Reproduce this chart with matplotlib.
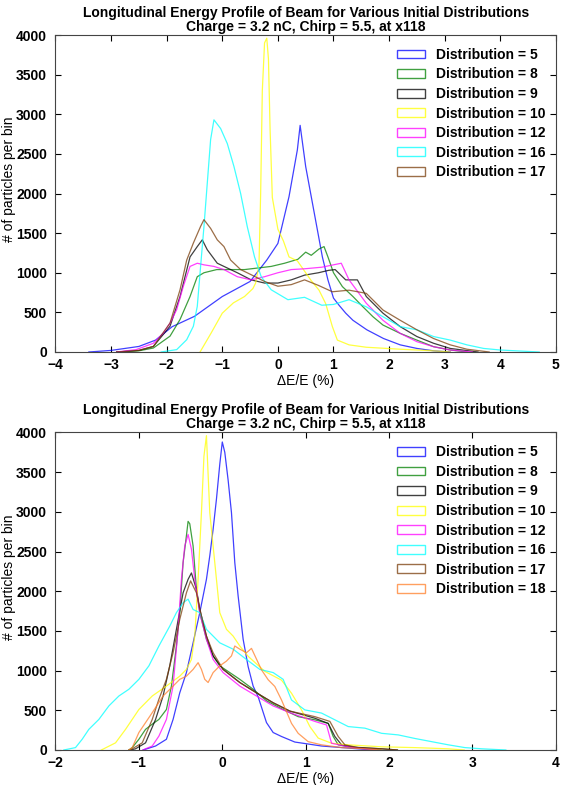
import matplotlib
matplotlib.use('Agg')
import matplotlib.pyplot as plt
from matplotlib.patches import Patch

plt.rcParams['font.family'] = ['Liberation Sans', 'DejaVu Sans']
plt.rcParams['font.size'] = 10

# ---- top panel: x118, distributions 5..17 ----
top_labels = [5, 8, 9, 10, 12, 16, 17]

top_x5 = [-3.4, -3.0, -2.5, -2.2, -1.9, -1.5, -1.0, -0.5, -0.2, 0.0, 0.2, 0.35, 0.4, 0.5, 0.6, 0.7, 0.8, 0.9,
          1.0, 1.1, 1.22, 1.35, 1.6, 1.9, 2.2, 2.5, 2.8, 3.1]
top_y5 = [0, 20, 70, 150, 320, 450, 700, 890, 1160, 1370, 1960, 2550, 2860, 2340, 1960, 1580, 1200, 910,
          680, 590, 490, 400, 280, 170, 90, 45, 15, 0]

top_x8 = [-2.9, -2.5, -2.24, -1.94, -1.76, -1.58, -1.45, -1.33, -1.1, -0.85, -0.6, -0.36, -0.12, 0.12, 0.36,
          0.5, 0.6, 0.74, 0.83, 0.9, 1.0, 1.16, 1.35, 1.53, 1.71, 1.89, 2.2, 2.5, 2.8, 3.1, 3.4]
top_y8 = [0, 15, 50, 200, 410, 700, 950, 1000, 1040, 1040, 1040, 1060, 1080, 1120, 1170,
          1260, 1220, 1300, 1330, 1200, 1000, 825, 700, 570, 445, 340, 235, 150, 67, 25, 0]

top_x9 = [-2.9, -2.5, -2.24, -1.94, -1.76, -1.58, -1.45, -1.36, -1.27, -1.09, -0.91, -0.73, -0.48, -0.24, 0.0,
          0.24, 0.48, 0.73, 0.91, 1.03, 1.22, 1.43, 1.59, 1.89, 2.2, 2.5, 2.8, 3.1, 3.6]
top_y9 = [0, 20, 70, 325, 700, 1200, 1330, 1415, 1290, 1120, 1060, 1000, 910, 870, 870,
          910, 970, 1000, 1030, 1040, 910, 910, 700, 490, 320, 195, 110, 45, 0]

top_x10 = [-1.4, -1.2, -1.0, -0.8, -0.6, -0.45, -0.4, -0.34, -0.31, -0.28, -0.24, -0.2, -0.17, -0.14, -0.1,
           -0.05, 0.0, 0.1, 0.2, 0.35, 0.48, 0.6, 0.74, 0.86, 0.98, 1.07, 1.28, 1.59, 2.2, 2.8, 3.1]
top_y10 = [0, 240, 490, 620, 700, 800, 870, 1100, 2000, 3300, 3900, 3960, 3700, 2800, 1950,
           1750, 1550, 1400, 1200, 1150, 1020, 900, 780, 610, 320, 150, 90, 60, 35, 15, 0]

top_x12 = [-2.9, -2.55, -2.24, -2.06, -1.94, -1.82, -1.7, -1.58, -1.45, -1.33, -1.15, -0.97, -0.73, -0.48,
           -0.24, 0.0, 0.24, 0.48, 0.79, 1.0, 1.14, 1.28, 1.59, 1.89, 2.2, 2.5, 2.8, 3.1, 3.5]
top_y12 = [0, 30, 110, 240, 365, 535, 830, 1080, 1120, 1100, 1080, 1040, 950, 910,
           950, 1000, 1040, 1050, 1070, 1100, 1120, 910, 615, 400, 235, 130, 67, 25, 0]

top_x16 = [-2.1, -1.82, -1.64, -1.52, -1.45, -1.39, -1.33, -1.27, -1.21, -1.15, -1.03, -0.91, -0.79, -0.67,
           -0.55, -0.42, -0.3, -0.12, 0.18, 0.48, 0.79, 1.0, 1.28, 1.59, 1.89, 2.2, 2.5, 2.8, 3.1, 3.4, 3.7,
           4.0, 4.7]
top_y16 = [0, 30, 155, 325, 575, 1080, 1580, 2130, 2680, 2930, 2820, 2630, 2340, 2000,
           1580, 1200, 950, 785, 660, 690, 590, 600, 660, 570, 445, 320, 280, 195, 150, 90, 45,
           25, 0]

top_x17 = [-2.9, -2.5, -2.24, -1.94, -1.76, -1.64, -1.52, -1.39, -1.33, -1.21, -1.09, -0.97, -0.85, -0.67,
           -0.48, -0.24, 0.0, 0.24, 0.48, 0.73, 0.98, 1.28, 1.59, 1.89, 2.2, 2.5, 2.8, 3.1, 3.4, 3.8]
top_y17 = [0, 20, 70, 365, 785, 1160, 1375, 1585, 1670, 1560, 1415, 1330, 1160, 1040,
           975, 890, 830, 850, 910, 840, 760, 780, 740, 530, 400, 280, 170, 90, 35, 0]

# ---- bottom panel: distributions 5..18 ----
bot_labels = [5, 8, 9, 10, 12, 16, 17, 18]

bot_x5 = [-0.95, -0.8, -0.67, -0.59, -0.51, -0.43, -0.35, -0.27, -0.19, -0.15, -0.11, -0.07, -0.03, 0.0, 0.03,
          0.07, 0.11, 0.15, 0.19, 0.25, 0.31, 0.37, 0.43, 0.53, 0.61, 0.71, 0.87, 1.0, 1.19, 1.5, 1.8]
bot_y5 = [0, 50, 135, 385, 720, 975, 1350, 1730, 2150, 2445, 2780, 3160, 3600, 3880, 3750,
          3400, 2990, 2360, 1940, 1395, 1050, 805, 670, 345, 220, 170, 100, 80, 50, 25, 0]

bot_x8 = [-1.12, -1.08, -1.0, -0.92, -0.84, -0.76, -0.67, -0.61, -0.55, -0.51, -0.47, -0.43, -0.41, -0.39,
          -0.35, -0.31, -0.27, -0.19, -0.11, -0.03, 0.09, 0.21, 0.37, 0.53, 0.71, 0.91, 1.11, 1.27, 1.33,
          1.39, 1.51, 1.71, 1.9]
bot_y8 = [0, 30, 135, 260, 325, 385, 510, 805, 1310, 1730, 2360, 2700, 2880, 2850,
          2570, 2025, 1730, 1395, 1185, 1060, 975, 890, 765, 620, 520, 420, 380, 335, 170,
          65, 40, 20, 0]

bot_x9 = [-1.1, -1.04, -0.92, -0.8, -0.71, -0.63, -0.55, -0.47, -0.41, -0.37, -0.31, -0.27, -0.19, -0.11,
          0.01, 0.21, 0.41, 0.61, 0.81, 1.11, 1.27, 1.35, 1.43, 1.59, 1.91, 2.1]
bot_y9 = [0, 15, 90, 385, 680, 1060, 1520, 1980, 2150, 2230, 2025, 1770, 1435, 1185,
          1015, 850, 720, 595, 490, 400, 335, 170, 65, 35, 15, 0]

bot_x10 = [-1.45, -1.28, -1.16, -1.0, -0.84, -0.67, -0.51, -0.43, -0.37, -0.33, -0.29, -0.25, -0.22, -0.19,
           -0.15, -0.09, -0.03, 0.05, 0.13, 0.21, 0.31, 0.51, 0.71, 0.83, 0.95, 1.05, 1.15, 1.31, 1.51,
           1.91, 2.31, 2.71, 2.9]
bot_y10 = [0, 90, 260, 510, 680, 805, 930, 1015, 1140, 1435, 2150, 2990, 3700, 3960,
           2990, 2360, 1730, 1520, 1435, 1310, 1180, 990, 880, 715, 505, 295, 150, 85, 65,
           40, 30, 15, 0]

bot_x12 = [-0.95, -0.92, -0.84, -0.76, -0.67, -0.59, -0.53, -0.49, -0.45, -0.41, -0.37, -0.33, -0.27, -0.19,
           -0.11, 0.01, 0.21, 0.41, 0.61, 0.81, 1.11, 1.25, 1.31, 1.51, 1.71, 1.85]
bot_y12 = [0, 15, 50, 175, 385, 805, 1520, 2150, 2570, 2715, 2530, 2150, 1730, 1395,
           1140, 975, 805, 680, 555, 470, 360, 315, 85, 40, 15, 0]

bot_x16 = [-1.9, -1.76, -1.68, -1.6, -1.48, -1.36, -1.24, -1.12, -1.0, -0.88, -0.76, -0.63, -0.55, -0.47,
           -0.41, -0.35, -0.27, -0.19, -0.11, -0.03, 0.13, 0.29, 0.45, 0.61, 0.73, 0.83, 0.99, 1.19, 1.35,
           1.51, 1.71, 1.91, 2.11, 2.31, 2.51, 2.71, 2.91, 3.11, 3.4]
bot_y16 = [0, 30, 135, 260, 385, 555, 680, 765, 890, 1060, 1310, 1560, 1730, 1855,
           1900, 1770, 1730, 1520, 1435, 1350, 1270, 1140, 1015, 975, 890, 630, 505, 465, 380,
           295, 275, 210, 190, 145, 105, 65, 30, 15, 0]

bot_x17 = [-1.12, -1.08, -0.96, -0.84, -0.76, -0.67, -0.59, -0.51, -0.43, -0.38, -0.31, -0.25, -0.19, -0.11,
           0.01, 0.21, 0.41, 0.61, 0.81, 1.11, 1.29, 1.39, 1.47, 1.63, 1.91, 2.1]
bot_y17 = [0, 15, 90, 385, 640, 890, 1225, 1645, 1980, 2130, 1980, 1690, 1435, 1225,
           1015, 850, 720, 595, 490, 420, 360, 170, 65, 30, 15, 0]

bot_x18 = [-1.12, -1.08, -1.0, -0.92, -0.84, -0.71, -0.59, -0.51, -0.43, -0.35, -0.29, -0.25, -0.21, -0.17,
           -0.11, -0.03, 0.05, 0.11, 0.15, 0.21, 0.29, 0.35, 0.47, 0.55, 0.63, 0.71, 0.83, 0.91, 1.03,
           1.19, 1.43, 1.71, 1.9]
bot_y18 = [0, 30, 220, 345, 470, 680, 805, 890, 930, 1015, 1100, 1015, 890, 850,
           975, 1060, 1120, 1185, 1310, 1270, 1225, 1280, 1010, 885, 800, 630, 335, 210, 105,
           65, 30, 15, 0]

colors = {5: '#0000ff', 8: '#008000', 9: '#000000', 10: '#ffff00', 12: '#ff00ff',
          16: '#00ffff', 17: '#7a3d0a', 18: '#ff7f2a'}

top_series = {5: (top_x5, top_y5), 8: (top_x8, top_y8), 9: (top_x9, top_y9), 10: (top_x10, top_y10),
              12: (top_x12, top_y12), 16: (top_x16, top_y16), 17: (top_x17, top_y17)}
bot_series = {5: (bot_x5, bot_y5), 8: (bot_x8, bot_y8), 9: (bot_x9, bot_y9), 10: (bot_x10, bot_y10),
              12: (bot_x12, bot_y12), 16: (bot_x16, bot_y16), 17: (bot_x17, bot_y17),
              18: (bot_x18, bot_y18)}

title = 'Longitudinal Energy Profile of Beam for Various Initial Distributions\nCharge = 3.2 nC, Chirp = 5.5, at x118'
ALPHA = 0.75


def draw_panel(ax, series, labels, xlim):
    for d in labels:
        xs, ys = series[d]
        ax.plot(xs, ys, color=colors[d], lw=0.9, alpha=ALPHA)
    handles = [Patch(facecolor='none', edgecolor=colors[d], alpha=ALPHA, lw=1.0,
                     label=f'Distribution = {d}') for d in labels]
    ax.legend(handles=handles, loc='upper right', frameon=False, prop={'weight': 'bold', 'size': 10},
              handlelength=2.0, handleheight=0.6, labelspacing=0.4, handletextpad=0.75,
              borderaxespad=0.3, bbox_to_anchor=(0.998, 0.99))
    ax.set_xlim(*xlim)
    ax.set_ylim(0, 4000)
    ax.set_yticks(range(0, 4001, 500))
    ax.set_xticks(range(xlim[0], xlim[1] + 1))
    ax.tick_params(direction='in', top=True, right=True, length=4, width=0.8)
    ax.tick_params(axis='y', pad=6)
    ax.tick_params(axis='x', pad=4)
    for lab in ax.get_xticklabels() + ax.get_yticklabels():
        lab.set_fontweight('bold')
    for s in ax.spines.values():
        s.set_color('#444444')
    ax.set_title(title, fontweight='bold', fontsize=10, pad=3, linespacing=1.0)
    ax.set_xlabel('\u0394E/E (%)', labelpad=2)
    ax.set_ylabel('# of particles per bin')
    ax.yaxis.set_label_coords(-0.079, 0.545)


fig = plt.figure(figsize=(5.61, 7.85), dpi=100)
ax1 = fig.add_axes([0.0989, 0.5516, 0.892, 0.4038])
ax2 = fig.add_axes([0.0989, 0.0446, 0.892, 0.4045])

draw_panel(ax1, top_series, top_labels, (-4, 5))
draw_panel(ax2, bot_series, bot_labels, (-2, 4))

fig.savefig('out.png', dpi=100)
